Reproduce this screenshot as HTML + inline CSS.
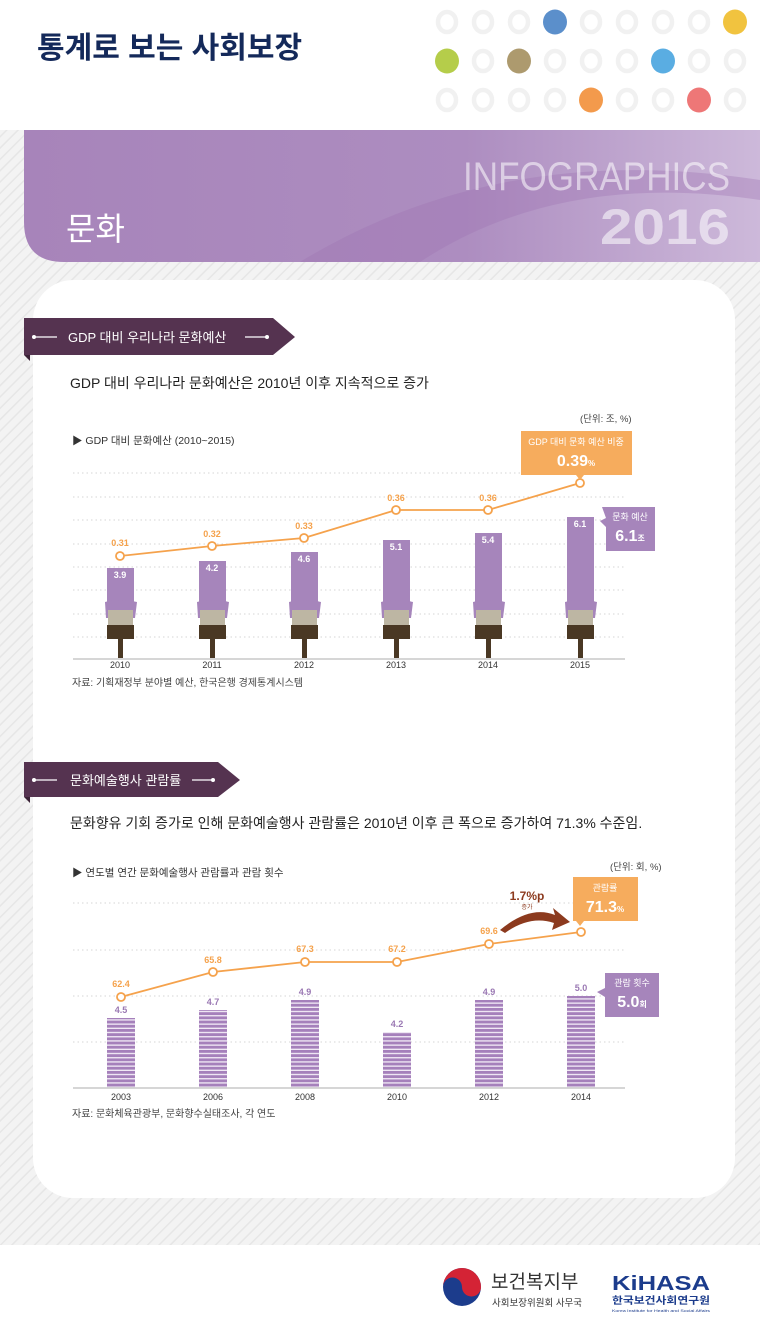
<!DOCTYPE html>
<html><head><meta charset="utf-8"><style>
html,body{margin:0;padding:0;background:#fff}
svg{display:block}
text{font-family:"Liberation Sans","Noto Sans CJK KR",sans-serif}
</style></head><body>
<svg width="760" height="1323" viewBox="0 0 760 1323" xmlns="http://www.w3.org/2000/svg">
<defs>
<pattern id="st" width="8" height="8" patternUnits="userSpaceOnUse" patternTransform="rotate(45)">
<rect width="8" height="8" fill="#f3f3f3"/><rect width="1.5" height="8" fill="#e6e6e6"/>
</pattern>
<linearGradient id="bg" x1="0" x2="1" y1="0" y2="0">
<stop offset="0" stop-color="#a784ba"/><stop offset="0.6" stop-color="#ad8dc0"/><stop offset="1" stop-color="#cdb9da"/>
</linearGradient>
<pattern id="bars" width="10" height="4.2" patternUnits="userSpaceOnUse">
<rect width="10" height="3" fill="#a580bb"/><rect y="3" width="10" height="1.2" fill="#f1e9f5"/>
</pattern>
</defs>
<rect width="760" height="1323" fill="#fff"/>
<text x="37" y="58" font-size="30" font-weight="bold" fill="#14295a">통계로 보는 사회보장</text>
<g stroke="#f1f1f1" stroke-width="4.5" fill="none">
<ellipse cx="447" cy="22" rx="9" ry="10"/><ellipse cx="483" cy="22" rx="9" ry="10"/><ellipse cx="519" cy="22" rx="9" ry="10"/><ellipse cx="591" cy="22" rx="9" ry="10"/><ellipse cx="627" cy="22" rx="9" ry="10"/><ellipse cx="663" cy="22" rx="9" ry="10"/><ellipse cx="699" cy="22" rx="9" ry="10"/>
<ellipse cx="483" cy="61" rx="9" ry="10"/><ellipse cx="555" cy="61" rx="9" ry="10"/><ellipse cx="591" cy="61" rx="9" ry="10"/><ellipse cx="627" cy="61" rx="9" ry="10"/><ellipse cx="699" cy="61" rx="9" ry="10"/><ellipse cx="735" cy="61" rx="9" ry="10"/>
<ellipse cx="447" cy="100" rx="9" ry="10"/><ellipse cx="483" cy="100" rx="9" ry="10"/><ellipse cx="519" cy="100" rx="9" ry="10"/><ellipse cx="555" cy="100" rx="9" ry="10"/><ellipse cx="627" cy="100" rx="9" ry="10"/><ellipse cx="663" cy="100" rx="9" ry="10"/><ellipse cx="735" cy="100" rx="9" ry="10"/>
</g>
<ellipse cx="555" cy="22" rx="12" ry="12.5" fill="#5b8fcb"/>
<ellipse cx="735" cy="22" rx="12" ry="12.5" fill="#f1c33f"/>
<ellipse cx="447" cy="61" rx="12" ry="12.5" fill="#b5cd4a"/>
<ellipse cx="519" cy="61" rx="12" ry="12.5" fill="#ad9a6e"/>
<ellipse cx="663" cy="61" rx="12" ry="12.5" fill="#5aade2"/>
<ellipse cx="591" cy="100" rx="12" ry="12.5" fill="#f39a4c"/>
<ellipse cx="699" cy="100" rx="12" ry="12.5" fill="#ee7777"/>

<rect x="0" y="130" width="760" height="1115" fill="url(#st)"/>
<path d="M24 130 H760 V262 H64 Q24 262 24 222 Z" fill="url(#bg)"/>
<path d="M300 262 Q500 140 760 180 V200 Q560 170 420 262 Z" fill="#9d74b3" opacity="0.35"/>
<text x="66" y="240" font-size="32" fill="#fff">문화</text>
<text x="463" y="190" font-size="40" fill="#fff" opacity="0.55" textLength="267" lengthAdjust="spacingAndGlyphs">INFOGRAPHICS</text>
<text x="600" y="244" font-size="50" fill="#fff" opacity="0.55" font-weight="bold" textLength="130" lengthAdjust="spacingAndGlyphs">2016</text>

<rect x="33" y="280" width="702" height="918" rx="40" fill="#fff"/>

<path d="M24 318 H273 L295 337 L273 355 H24 Z" fill="#553350"/>
<path d="M24 355 H30 V361 Z" fill="#3a2236"/>
<line x1="35" y1="337" x2="57" y2="337" stroke="#fff" stroke-width="1.2"/><circle cx="34" cy="337" r="2" fill="#fff"/>
<line x1="245" y1="337" x2="266" y2="337" stroke="#fff" stroke-width="1.2"/><circle cx="267" cy="337" r="2" fill="#fff"/>
<text x="68" y="342" font-size="13" fill="#fff">GDP 대비 우리나라 문화예산</text>
<text x="70" y="388" font-size="14" fill="#222">GDP 대비 우리나라 문화예산은 2010년 이후 지속적으로 증가</text>
<text x="580" y="422" font-size="9.5" fill="#444">(단위: 조, %)</text>
<text x="72" y="444" font-size="10.5" fill="#333">▶ GDP 대비 문화예산 (2010~2015)</text>
<g stroke="#d6d6d6" stroke-dasharray="1.5,3" stroke-width="1">
<line x1="73" x2="625" y1="473" y2="473"/><line x1="73" x2="625" y1="497" y2="497"/><line x1="73" x2="625" y1="520" y2="520"/><line x1="73" x2="625" y1="544" y2="544"/><line x1="73" x2="625" y1="567" y2="567"/><line x1="73" x2="625" y1="590" y2="590"/><line x1="73" x2="625" y1="614" y2="614"/><line x1="73" x2="625" y1="637" y2="637"/>
</g>
<line x1="73" x2="625" y1="659" y2="659" stroke="#c8c8c8" stroke-width="1.5"/>
<g fill="#a685bb">
<rect x="107" y="568" width="27" height="40"/><rect x="199" y="561" width="27" height="47"/><rect x="291" y="552" width="27" height="56"/><rect x="383" y="540" width="27" height="68"/><rect x="475" y="533" width="27" height="75"/><rect x="567" y="517" width="27" height="91"/>
<path d="M105 602 Q120 598 137 602 L135 618 H106 Z"/><path d="M197 602 Q212 598 229 602 L227 618 H198 Z"/><path d="M289 602 Q304 598 321 602 L319 618 H290 Z"/><path d="M381 602 Q396 598 413 602 L411 618 H382 Z"/><path d="M473 602 Q488 598 505 602 L503 618 H474 Z"/><path d="M565 602 Q580 598 597 602 L595 618 H566 Z"/>
</g>
<g fill="#bdb6a3">
<rect x="108" y="610" width="25" height="16"/><rect x="200" y="610" width="25" height="16"/><rect x="292" y="610" width="25" height="16"/><rect x="384" y="610" width="25" height="16"/><rect x="476" y="610" width="25" height="16"/><rect x="568" y="610" width="25" height="16"/>
</g>
<g fill="#4a3824">
<rect x="107" y="625" width="27" height="14"/><rect x="118" y="638" width="5" height="20"/>
<rect x="199" y="625" width="27" height="14"/><rect x="210" y="638" width="5" height="20"/>
<rect x="291" y="625" width="27" height="14"/><rect x="302" y="638" width="5" height="20"/>
<rect x="383" y="625" width="27" height="14"/><rect x="394" y="638" width="5" height="20"/>
<rect x="475" y="625" width="27" height="14"/><rect x="486" y="638" width="5" height="20"/>
<rect x="567" y="625" width="27" height="14"/><rect x="578" y="638" width="5" height="20"/>
</g>
<g font-size="9" fill="#fff" text-anchor="middle" font-weight="bold">
<text x="120" y="578">3.9</text><text x="212" y="571">4.2</text><text x="304" y="562">4.6</text><text x="396" y="550">5.1</text><text x="488" y="543">5.4</text><text x="580" y="527">6.1</text>
</g>
<polyline points="120,556 212,546 304,538 396,510 488,510 580,483" fill="none" stroke="#f5a24c" stroke-width="1.8"/>
<g fill="#fff" stroke="#f5a24c" stroke-width="1.8">
<circle cx="120" cy="556" r="4"/><circle cx="212" cy="546" r="4"/><circle cx="304" cy="538" r="4"/><circle cx="396" cy="510" r="4"/><circle cx="488" cy="510" r="4"/><circle cx="580" cy="483" r="4"/>
</g>
<g font-size="9" fill="#f5a24c" text-anchor="middle" font-weight="bold">
<text x="120" y="546">0.31</text><text x="212" y="537">0.32</text><text x="304" y="529">0.33</text><text x="396" y="501">0.36</text><text x="488" y="501">0.36</text>
</g>
<g font-size="9" fill="#333" text-anchor="middle">
<text x="120" y="668">2010</text><text x="212" y="668">2011</text><text x="304" y="668">2012</text><text x="396" y="668">2013</text><text x="488" y="668">2014</text><text x="580" y="668">2015</text>
</g>
<path d="M521 431 H632 V475 H584 L580 480 L576 475 H521 Z" fill="#f6ac5d"/>
<text x="576" y="445" font-size="9" fill="#fff" text-anchor="middle">GDP 대비 문화 예산 비중</text>
<text x="576" y="466" font-size="16" fill="#fff" text-anchor="middle" font-weight="bold">0.39<tspan font-size="8">%</tspan></text>
<path d="M602 507 H655 V551 H606 V527 L600 521 L606 518 Z" fill="#a685bb"/>
<text x="630" y="520" font-size="9" fill="#fff" text-anchor="middle">문화 예산</text>
<text x="630" y="541" font-size="16" fill="#fff" text-anchor="middle" font-weight="bold">6.1<tspan font-size="8">조</tspan></text>
<text x="72" y="686" font-size="10" fill="#444">자료: 기획재정부 분야별 예산, 한국은행 경제통계시스템</text>

<path d="M24 762 H218 L240 780 L218 797 H24 Z" fill="#553350"/>
<path d="M24 797 H30 V803 Z" fill="#3a2236"/>
<line x1="35" y1="780" x2="57" y2="780" stroke="#fff" stroke-width="1.2"/><circle cx="34" cy="780" r="2" fill="#fff"/>
<line x1="192" y1="780" x2="212" y2="780" stroke="#fff" stroke-width="1.2"/><circle cx="213" cy="780" r="2" fill="#fff"/>
<text x="70" y="785" font-size="13" fill="#fff">문화예술행사 관람률</text>
<text x="70" y="828" font-size="14" fill="#222">문화향유 기회 증가로 인해 문화예술행사 관람률은 2010년 이후 큰 폭으로 증가하여 71.3% 수준임.</text>
<text x="610" y="870" font-size="9.5" fill="#444">(단위: 회, %)</text>
<text x="72" y="876" font-size="10.5" fill="#333">▶ 연도별 연간 문화예술행사 관람률과 관람 횟수</text>
<g stroke="#d6d6d6" stroke-dasharray="1.5,3" stroke-width="1">
<line x1="73" x2="625" y1="903" y2="903"/><line x1="73" x2="625" y1="950" y2="950"/><line x1="73" x2="625" y1="996" y2="996"/><line x1="73" x2="625" y1="1042" y2="1042"/>
</g>
<g fill="url(#bars)">
<rect x="107" y="1018" width="28" height="70"/><rect x="199" y="1010" width="28" height="78"/><rect x="291" y="1000" width="28" height="88"/><rect x="383" y="1032" width="28" height="56"/><rect x="475" y="1000" width="28" height="88"/><rect x="567" y="996" width="28" height="92"/>
</g>
<line x1="73" x2="625" y1="1088" y2="1088" stroke="#c8c8c8" stroke-width="1.5"/>
<g font-size="9" fill="#9a78b3" text-anchor="middle" font-weight="bold">
<text x="121" y="1013">4.5</text><text x="213" y="1005">4.7</text><text x="305" y="995">4.9</text><text x="397" y="1027">4.2</text><text x="489" y="995">4.9</text><text x="581" y="991">5.0</text>
</g>
<polyline points="121,997 213,972 305,962 397,962 489,944 581,932" fill="none" stroke="#f5a24c" stroke-width="1.8"/>
<g fill="#fff" stroke="#f5a24c" stroke-width="1.8">
<circle cx="121" cy="997" r="4"/><circle cx="213" cy="972" r="4"/><circle cx="305" cy="962" r="4"/><circle cx="397" cy="962" r="4"/><circle cx="489" cy="944" r="4"/><circle cx="581" cy="932" r="4"/>
</g>
<g font-size="9" fill="#f5a24c" text-anchor="middle" font-weight="bold">
<text x="121" y="987">62.4</text><text x="213" y="963">65.8</text><text x="305" y="952">67.3</text><text x="397" y="952">67.2</text><text x="489" y="934">69.6</text>
</g>
<g font-size="9" fill="#333" text-anchor="middle">
<text x="121" y="1100">2003</text><text x="213" y="1100">2006</text><text x="305" y="1100">2008</text><text x="397" y="1100">2010</text><text x="489" y="1100">2012</text><text x="581" y="1100">2014</text>
</g>
<path d="M500 930 Q530 905 555 915 L553 908 L570 922 L552 930 L554 923 Q530 915 505 933 Z" fill="#8c3a1e"/>
<text x="527" y="900" font-size="12" fill="#8c3a1e" text-anchor="middle" font-weight="bold">1.7%p</text>
<text x="527" y="909" font-size="6" fill="#8c3a1e" text-anchor="middle">증가</text>
<path d="M573 877 H638 V921 H584 L580 926 L576 921 H573 Z" fill="#f6ac5d"/>
<text x="605" y="891" font-size="9" fill="#fff" text-anchor="middle">관람률</text>
<text x="605" y="912" font-size="16" fill="#fff" text-anchor="middle" font-weight="bold">71.3<tspan font-size="8">%</tspan></text>
<path d="M605 973 H659 V1017 H605 V997 L597 992 L605 988 Z" fill="#a685bb"/>
<text x="632" y="986" font-size="9" fill="#fff" text-anchor="middle">관람 횟수</text>
<text x="632" y="1007" font-size="16" fill="#fff" text-anchor="middle" font-weight="bold">5.0<tspan font-size="8">회</tspan></text>
<text x="72" y="1117" font-size="10" fill="#444">자료: 문화체육관광부, 문화향수실태조사, 각 연도</text>

<rect x="0" y="1245" width="760" height="78" fill="#fff"/>
<circle cx="462" cy="1287" r="19" fill="#1c3c8c"/>
<path d="M443 1287 A19 19 0 0 1 481 1287 A9.5 9.5 0 0 1 462 1287 A9.5 9.5 0 0 0 443 1287 Z" fill="#d42335"/>
<text x="491" y="1288" font-size="19" fill="#333">보건복지부</text>
<text x="492" y="1306" font-size="9.5" fill="#333">사회보장위원회 사무국</text>
<text x="612" y="1290" font-size="20" fill="#1c3c8c" font-weight="bold" textLength="98" lengthAdjust="spacingAndGlyphs">KiHASA</text>
<text x="612" y="1304" font-size="10" fill="#1c3c8c" font-weight="bold" textLength="98" lengthAdjust="spacingAndGlyphs">한국보건사회연구원</text>
<text x="612" y="1312" font-size="4" fill="#1c3c8c" textLength="98" lengthAdjust="spacingAndGlyphs">Korea Institute for Health and Social Affairs</text>
</svg>
</body></html>
